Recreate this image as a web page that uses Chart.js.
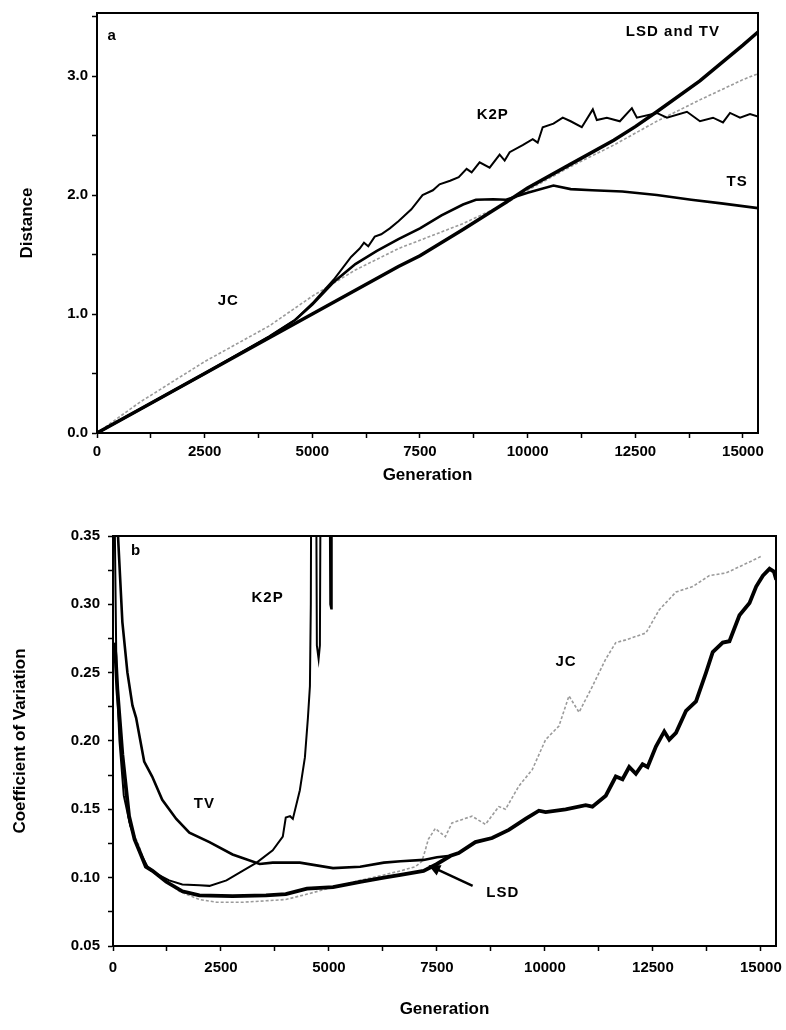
<!DOCTYPE html>
<html>
<head>
<meta charset="utf-8">
<script src="https://cdn.jsdelivr.net/npm/chart.js@4.4.1/dist/chart.umd.min.js"></script>
<style>
  html, body { margin: 0; padding: 0; background: #fff; overflow: hidden; }
  #wrap { position: relative; width: 786px; height: 1030px; overflow: hidden; }
  .box { position: absolute; left: 0; width: 800px; }
  #boxA { top: 0; height: 500px; }
  #boxB { top: 500px; height: 530px; }
</style>
</head>
<body>
<div id="wrap">
  <div class="box" id="boxA"><canvas id="chartA"></canvas></div>
  <div class="box" id="boxB"><canvas id="chartB"></canvas></div>
</div>
<script>
// ---- panel a : distance vs generation ([generation, distance]) ----
const lsdTvA = [[0,0],[1000,0.2],[2500,0.5],[4000,0.8],[5000,1.0],[6000,1.2],[7000,1.4],[7500,1.49],[8500,1.71],
  [9500,1.94],[10000,2.06],[11000,2.26],[12000,2.46],[12500,2.575],[13000,2.7],[14000,2.96],[15000,3.26],[15350,3.37]];
const tsA = [[0,0],[2500,0.5],[4000,0.81],[4600,0.95],[5000,1.08],[5500,1.27],[6000,1.42],[6500,1.53],[7000,1.63],
  [7500,1.72],[8000,1.83],[8500,1.92],[8800,1.96],[9200,1.965],[9500,1.96],[10000,2.02],[10600,2.08],[11000,2.05],
  [11500,2.04],[12200,2.03],[13000,2.0],[13800,1.96],[14500,1.93],[15350,1.89]];
const k2pA = [[0,0],[2500,0.5],[4000,0.81],[4600,0.95],[5000,1.09],[5500,1.29],[5900,1.48],[6100,1.55],[6200,1.6],
  [6300,1.57],[6450,1.65],[6600,1.67],[6800,1.72],[7000,1.78],[7300,1.88],[7560,2.0],[7800,2.04],[7955,2.09],
  [8200,2.12],[8400,2.15],[8583,2.22],[8700,2.19],[8885,2.275],[9118,2.23],[9350,2.34],[9467,2.29],[9583,2.36],
  [9885,2.42],[10118,2.47],[10234,2.44],[10350,2.57],[10600,2.6],[10816,2.65],[11000,2.62],[11258,2.57],
  [11514,2.72],[11607,2.63],[11840,2.65],[12142,2.62],[12421,2.73],[12537,2.65],[13000,2.69],[13235,2.65],
  [13700,2.7],[14002,2.62],[14305,2.65],[14537,2.61],[14700,2.69],[14933,2.65],[15165,2.68],[15350,2.66]];
const jcA = [[0,0],[1000,0.26],[2500,0.6],[4000,0.9],[5000,1.15],[6000,1.37],[7000,1.55],[7500,1.62],[8500,1.76],
  [9500,1.93],[10000,2.04],[11000,2.24],[12000,2.42],[13000,2.62],[14000,2.8],[15000,2.97],[15350,3.02]];

// ---- panel b : coefficient of variation vs generation ----
const lsdB = [[30,0.272],[60,0.262],[100,0.238],[217,0.19],[372,0.145],[500,0.128],[605,0.12],[760,0.108],
  [915,0.105],[1233,0.097],[1605,0.09],[2000,0.087],[2768,0.0865],[3543,0.087],[4000,0.088],[4490,0.092],
  [5094,0.093],[5722,0.097],[6270,0.1],[6658,0.102],[7190,0.105],[7500,0.11],[7816,0.116],[8003,0.118],
  [8390,0.126],[8777,0.129],[9164,0.135],[9551,0.143],[9861,0.149],[10016,0.148],[10480,0.15],[10945,0.153],
  [11099,0.152],[11409,0.16],[11641,0.174],[11796,0.172],[11951,0.181],[12106,0.176],[12261,0.183],
  [12377,0.181],[12570,0.196],[12763,0.207],[12879,0.201],[13034,0.206],[13266,0.222],[13498,0.229],
  [13730,0.25],[13885,0.265],[14117,0.272],[14272,0.273],[14504,0.292],[14737,0.301],[14891,0.313],
  [15046,0.321],[15200,0.326],[15300,0.324],[15355,0.318]];
const tvB = [[100,0.36],[217,0.287],[334,0.25],[450,0.226],[535,0.217],[722,0.185],[907,0.174],[1140,0.157],
  [1465,0.143],[1768,0.133],[2233,0.126],[2768,0.117],[3396,0.11],[3698,0.111],[4326,0.111],[5094,0.107],
  [5722,0.108],[6270,0.111],[6658,0.112],[7190,0.113],[7500,0.115],[7816,0.116]];
const k2pB = [[0,0.6],[40,0.36],[80,0.25],[150,0.2],[250,0.16],[400,0.138],[600,0.12],[800,0.108],[1000,0.103],
  [1300,0.098],[1605,0.095],[2000,0.0945],[2233,0.094],[2628,0.098],[3000,0.105],[3326,0.111],[3698,0.12],
  [3931,0.13],[4000,0.144],[4100,0.145],[4164,0.143],[4326,0.164],[4443,0.188],[4513,0.217],[4559,0.24],
  [4580,0.3],[4600,0.5],[4690,0.5],[4720,0.27],[4760,0.26],[4790,0.27],[4820,0.5],[5000,0.5],[5030,0.3],
  [5050,0.297],[5065,0.5]];
const jcB = [[30,0.27],[100,0.235],[217,0.19],[372,0.14],[605,0.123],[760,0.108],[915,0.104],[1226,0.098],
  [1536,0.09],[2000,0.084],[2400,0.082],[3000,0.082],[3500,0.083],[4000,0.084],[4500,0.088],[5094,0.093],
  [5722,0.098],[6270,0.102],[6658,0.105],[7000,0.108],[7152,0.112],[7229,0.12],[7300,0.128],[7461,0.136],
  [7694,0.13],[7848,0.14],[8313,0.145],[8623,0.139],[8933,0.152],[9087,0.15],[9396,0.167],[9706,0.179],
  [10016,0.201],[10325,0.211],[10557,0.233],[10790,0.221],[11099,0.24],[11409,0.26],[11641,0.272],
  [11873,0.274],[12338,0.279],[12647,0.296],[13034,0.309],[13421,0.313],[13808,0.321],[14195,0.323],
  [14737,0.331],[15000,0.335]];

// tick positions (labels only on every second one)
const genTicks = [0,1250,2500,3750,5000,6250,7500,8750,10000,11250,12500,13750,15000];
const distTicks = [0,0.5,1,1.5,2,2.5,3,3.5];
const cvTicks = [0.05,0.075,0.1,0.125,0.15,0.175,0.2,0.225,0.25,0.275,0.3,0.325,0.35];

// text labels inside the plots: [text, generation, value]
const notesA = [['a',350,3.34],['LSD and TV',13375,3.37],['K2P',9190,2.67],['TS',14865,2.11],['JC',3050,1.11]];
const notesB = [['b',535,0.339],['K2P',3580,0.305],['TV',2117,0.154],['JC',10490,0.258],['LSD',9025,0.089]];
const arrowB = [[8327,0.094],[7304,0.109]];

const FONT = 'Liberation Sans';
const toPts = arr => arr.map(p => ({x: p[0], y: p[1]}));

function line(data, width, color, dash) {
  return {
    data: toPts(data),
    borderColor: color || '#000',
    borderWidth: width,
    borderDash: dash || [],
    pointRadius: 0,
    tension: 0,
    fill: false
  };
}

// frame + labels + arrow
function notesPlugin(notes, arrow) {
  return {
    id: 'notes',
    afterDraw(chart) {
      const ctx = chart.ctx, a = chart.chartArea;
      const xs = chart.scales.x, ys = chart.scales.y;
      ctx.save();
      ctx.strokeStyle = '#000';
      ctx.lineWidth = 2;
      ctx.strokeRect(a.left, a.top, a.right - a.left, a.bottom - a.top);
      ctx.fillStyle = '#000';
      ctx.font = 'bold 15px "' + FONT + '"';
      ctx.letterSpacing = '1px';
      ctx.textAlign = 'center';
      ctx.textBaseline = 'middle';
      notes.forEach(n => {
        ctx.fillText(n[0], xs.getPixelForValue(n[1]), ys.getPixelForValue(n[2]));
      });
      if (arrow) {
        const x0 = xs.getPixelForValue(arrow[0][0]), y0 = ys.getPixelForValue(arrow[0][1]);
        const x1 = xs.getPixelForValue(arrow[1][0]), y1 = ys.getPixelForValue(arrow[1][1]);
        const ang = Math.atan2(y1 - y0, x1 - x0);
        ctx.lineWidth = 2.5;
        ctx.beginPath();
        ctx.moveTo(x0, y0);
        ctx.lineTo(x1 - 6 * Math.cos(ang), y1 - 6 * Math.sin(ang));
        ctx.stroke();
        ctx.beginPath();
        ctx.moveTo(x1, y1);
        ctx.lineTo(x1 - 13 * Math.cos(ang - 0.45), y1 - 13 * Math.sin(ang - 0.45));
        ctx.lineTo(x1 - 13 * Math.cos(ang + 0.45), y1 - 13 * Math.sin(ang + 0.45));
        ctx.closePath();
        ctx.fill();
      }
      ctx.restore();
    }
  };
}

function axisStyle() {
  return {
    grid: { drawOnChartArea: false, drawTicks: true, tickLength: 5, tickColor: '#000', tickWidth: 1.5 },
    border: { display: true, color: '#000', width: 2 }
  };
}

function makeChart(id, datasets, opt) {
  const xAxis = Object.assign(axisStyle(), {
    type: 'linear', min: 0, max: 15350,
    afterFit: s => { s.height = opt.xHeight; },
    afterBuildTicks: s => { s.ticks = genTicks.map(v => ({value: v})); },
    ticks: {
      autoSkip: false, maxRotation: 0,
      padding: opt.xTickPad, color: '#000',
      font: { family: FONT, size: 15, weight: 'bold' },
      callback: v => (v % 2500 === 0 ? String(v) : '')
    },
    title: {
      display: true, text: 'Generation', color: '#000',
      font: { family: FONT, size: 17, weight: 'bold' },
      padding: { top: 0, bottom: opt.xTitlePad }
    }
  });
  const yAxis = Object.assign(axisStyle(), {
    min: opt.yMin, max: opt.yMax,
    afterFit: s => { s.width = opt.yWidth; },
    afterBuildTicks: s => { s.ticks = opt.yTicks.map(v => ({value: v})); },
    ticks: {
      autoSkip: false,
      padding: opt.yTickPad, color: '#000',
      font: { family: FONT, size: 15, weight: 'bold' },
      callback: opt.yLabel
    },
    title: {
      display: true, text: opt.yTitle, color: '#000',
      font: { family: FONT, size: 17, weight: 'bold' },
      padding: { top: opt.yTitlePad, bottom: 0 }
    }
  });
  return new Chart(document.getElementById(id), {
    type: 'line',
    data: { datasets: datasets },
    options: {
      responsive: true,
      maintainAspectRatio: false,
      animation: false,
      layout: { padding: opt.pad },
      plugins: { legend: { display: false }, tooltip: { enabled: false } },
      scales: { x: xAxis, y: yAxis }
    },
    plugins: [notesPlugin(opt.notes, opt.arrow)]
  });
}

makeChart('chartA', [
  line(lsdTvA, 3.5),
  line(tsA, 2.6),
  line(k2pA, 2),
  line(jcA, 1.6, '#9b9b9b', [3, 2])
], {
  pad: { top: 9, right: 42, left: 0, bottom: 0 },
  xHeight: 67, xTickPad: 5, xTitlePad: 14,
  yWidth: 97, yTickPad: 4, yTitlePad: 17,
  yMin: 0, yMax: 3.53, yTicks: distTicks, yTitle: 'Distance',
  yLabel: v => (Math.abs(v - Math.round(v)) < 1e-9 ? v.toFixed(1) : ''),
  notes: notesA
});

makeChart('chartB', [
  line(lsdB, 3.8),
  line(tvB, 2.6),
  line(k2pB, 2),
  line(jcB, 1.6, '#9b9b9b', [3, 2])
], {
  pad: { top: 36, right: 24, left: 0, bottom: 0 },
  xHeight: 84, xTickPad: 8, xTitlePad: 10,
  yWidth: 113, yTickPad: 8, yTitlePad: 10,
  yMin: 0.05, yMax: 0.35, yTicks: cvTicks, yTitle: 'Coefficient of Variation',
  yLabel: v => (Math.round(v * 1000) % 50 === 0 ? v.toFixed(2) : ''),
  notes: notesB, arrow: arrowB
});
</script>
</body>
</html>
